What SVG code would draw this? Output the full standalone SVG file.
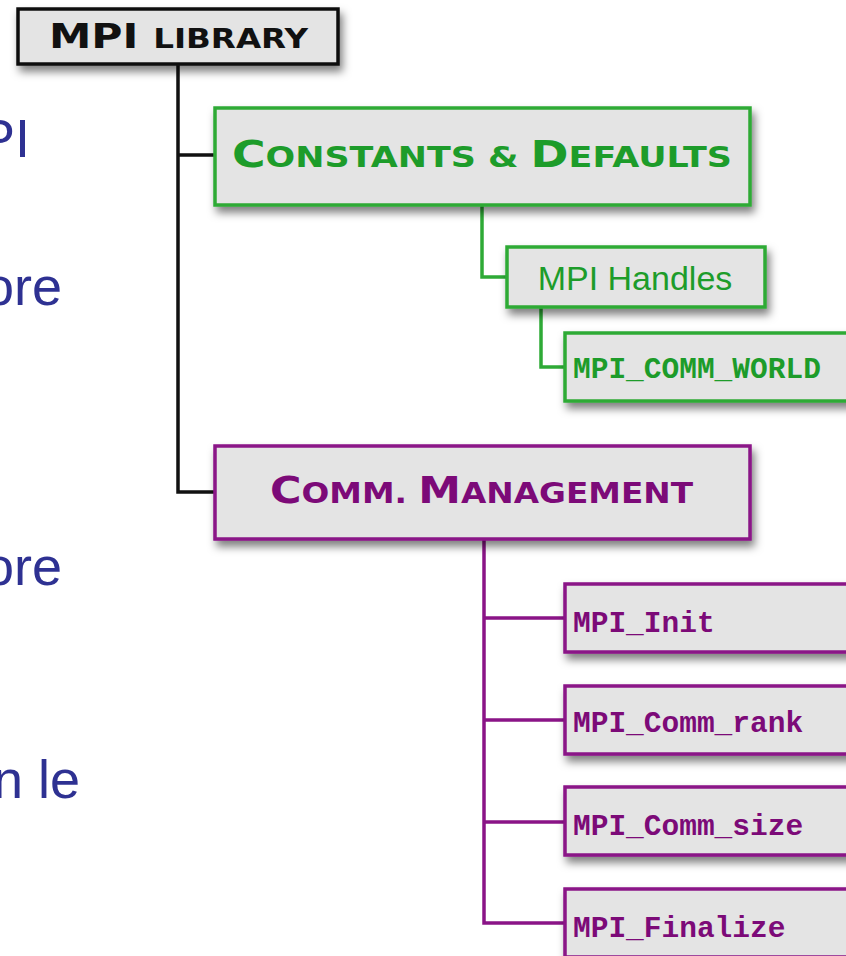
<svg xmlns="http://www.w3.org/2000/svg" width="846" height="956" viewBox="0 0 846 956">
<defs>
<filter id="sh" x="-10%" y="-20%" width="125%" height="160%">
<feDropShadow dx="3" dy="6" stdDeviation="4" flood-color="#000" flood-opacity="0.5"/>
</filter>
<style>
.box{fill:#e4e4e4;stroke-width:3.5;filter:url(#sh)}
.blk{stroke:#111}
.grn{stroke:#2eaa36}
.pur{stroke:#8a1487}
.hdr{font-family:"DejaVu Sans","Liberation Sans",sans-serif;font-weight:bold}
.mono{font-family:"Liberation Mono","DejaVu Sans Mono",monospace;font-weight:bold;font-size:29.5px}
.side{font-family:"Liberation Sans",Arial,sans-serif;font-size:54px;fill:#2e3192}
.gt{fill:#1d9c2a}
.pt{fill:#7c0a78}
.con{fill:none;stroke-width:3.5}
</style>
</defs>
<rect width="846" height="956" fill="#fff"/>
<g id="side-text">
<text class="side" x="30" y="157" text-anchor="end">PI</text>
<text class="side" x="62" y="305" text-anchor="end">ore</text>
<text class="side" x="62" y="585" text-anchor="end">ore</text>
<text class="side" x="80" y="798" text-anchor="end">n le</text>
</g>
<g id="connectors">
<path class="con blk" d="M178 64 V492 H215 M178 155 H215"/>
<path class="con grn" d="M482 205 V277 H507 M541 307 V367 H565"/>
<path class="con pur" d="M484 539 V923 H565 M484 618 H565 M484 720 H565 M484 822 H565"/>
</g>
<g id="mpi-library">
<rect class="box blk" x="18" y="9" width="320" height="55"/>
<text class="hdr" x="49" y="48" fill="#111" textLength="259" lengthAdjust="spacingAndGlyphs"><tspan font-size="34">MPI </tspan><tspan font-size="26">LIBRARY</tspan></text>
</g>
<g id="constants-defaults">
<rect class="box grn" x="215" y="108" width="535" height="97"/>
<text class="hdr gt" x="232" y="167" textLength="500" lengthAdjust="spacingAndGlyphs"><tspan font-size="38">C</tspan><tspan font-size="29">ONSTANTS &amp; </tspan><tspan font-size="38">D</tspan><tspan font-size="29">EFAULTS</tspan></text>
</g>
<g id="mpi-handles">
<rect class="box grn" x="507" y="247" width="258" height="60"/>
<text x="635" y="290" text-anchor="middle" font-family="Liberation Sans, Arial, sans-serif" font-size="34" class="gt">MPI Handles</text>
</g>
<g id="mpi-comm-world">
<rect class="box grn" x="565" y="333" width="300" height="68"/>
<text class="mono gt" x="573" y="378">MPI_COMM_WORLD</text>
</g>
<g id="comm-management">
<rect class="box pur" x="215" y="446" width="535" height="93"/>
<text class="hdr pt" x="270" y="503" textLength="423" lengthAdjust="spacingAndGlyphs"><tspan font-size="38">C</tspan><tspan font-size="29">OMM. </tspan><tspan font-size="38">M</tspan><tspan font-size="29">ANAGEMENT</tspan></text>
</g>
<g id="mpi-init">
<rect class="box pur" x="565" y="584" width="300" height="68"/>
<text class="mono pt" x="573" y="632">MPI_Init</text>
</g>
<g id="mpi-comm-rank">
<rect class="box pur" x="565" y="686" width="300" height="68"/>
<text class="mono pt" x="573" y="732">MPI_Comm_rank</text>
</g>
<g id="mpi-comm-size">
<rect class="box pur" x="565" y="787" width="300" height="68"/>
<text class="mono pt" x="573" y="835">MPI_Comm_size</text>
</g>
<g id="mpi-finalize">
<rect class="box pur" x="565" y="889" width="300" height="68"/>
<text class="mono pt" x="573" y="937">MPI_Finalize</text>
</g>
</svg>
